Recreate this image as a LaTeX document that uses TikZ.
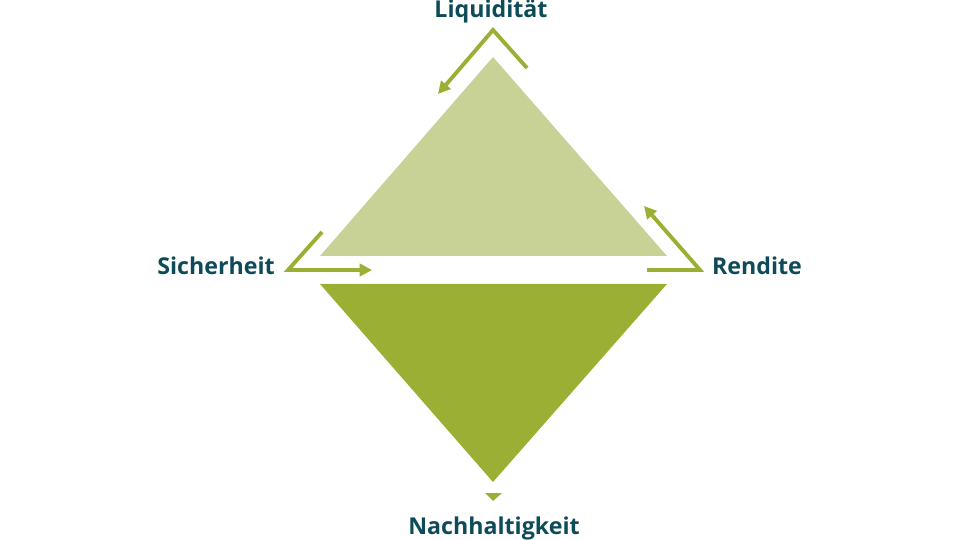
\documentclass[tikz,border=0pt]{standalone}
\usepackage{fontspec}
\setmainfont{Open Sans}
\usetikzlibrary{arrows.meta}
\definecolor{hellgruen}{HTML}{C8D296}
\definecolor{gruen}{HTML}{9BAF34}
\definecolor{petrol}{HTML}{0E4B58}
\tikzset{
	ziel/.style={text=petrol, font=\bfseries\fontsize{13.2}{16}\selectfont, inner sep=0pt, anchor=base},
	pfeil/.style={gruen, line width=2.2pt, -{Triangle[length=7pt,width=7pt]}}
}
\begin{document}
\begin{tikzpicture}[x=0.02cm, y=-0.02cm]
	\useasboundingbox (0,0) rectangle (960,540);
	%triangles
	\fill[hellgruen] (493,57) -- (667,256) -- (320,256) -- cycle;
	\fill[gruen] (320,284) -- (667,284) -- (493,482) -- cycle;
	\fill[gruen] (485,493) -- (502,493) -- (493,501) -- cycle;

	%labels
	\node[ziel] (liq) at (491,18) {Liquidität};
	\node[ziel] (sich) at (216,275) {Sicherheit};
	\node[ziel] (rend) at (757,275) {Rendite};
	\node[ziel] (nach) at (494,534) {Nachhaltigkeit};

	%arrows
	\coordinate (a1) at (527,68);
	\coordinate (a2) at (493,30);
	\coordinate (a3) at (438,94);
	\draw[pfeil] (a1) -- (a2) -- (a3);
	\coordinate (b1) at (322,232);
	\coordinate (b2) at (288,270);
	\coordinate (b3) at (372,270);
	\draw[pfeil] (b1) -- (b2) -- (b3);
	\coordinate (c1) at (647,270);
	\coordinate (c2) at (700,270);
	\coordinate (c3) at (644,206);
	\draw[pfeil] (c1) -- (c2) -- (c3);
\end{tikzpicture}
\end{document}
